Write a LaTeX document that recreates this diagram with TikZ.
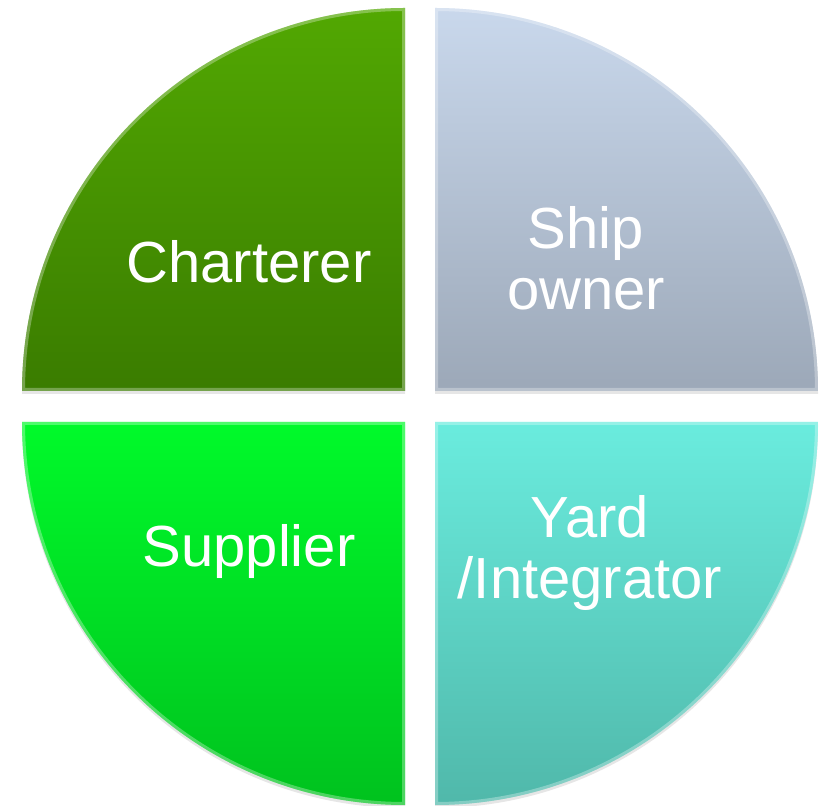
\documentclass[tikz,border=0pt]{standalone}
\usepackage{fontspec}
\setmainfont{Liberation Sans}
\usetikzlibrary{shadows}

\definecolor{charttop}{RGB}{82,168,2}
\definecolor{chartbot}{RGB}{58,124,0}
\definecolor{shiptop}{RGB}{201,216,236}
\definecolor{shipbot}{RGB}{156,168,184}
\definecolor{supptop}{RGB}{0,250,42}
\definecolor{suppbot}{RGB}{0,194,30}
\definecolor{yardtop}{RGB}{106,236,222}
\definecolor{yardbot}{RGB}{80,184,170}

\begin{document}
\begin{tikzpicture}[
    x=1pt,
    y=1pt,
    quarter/.style={
        draw=none,
        drop shadow={shadow xshift=0pt, shadow yshift=-3pt, opacity=.2}
    },
    rim/.style={
        white,
        opacity=.3,
        line width=6pt
    },
    quartertext/.style={
        text=white,
        font=\fontsize{58}{61}\selectfont,
        align=center,
        inner sep=0pt
    }
]
\useasboundingbox (0,0) rectangle (821,805);

% Quarto in alto a sinistra - Charterer
\shade[quarter, top color=charttop, bottom color=chartbot]
    (405,414) -- (22,414) arc[start angle=180, end angle=90, radius=383] -- cycle;
\begin{scope}
    \clip (405,414) -- (22,414) arc[start angle=180, end angle=90, radius=383] -- cycle;
    \draw[rim] (405,414) -- (22,414) arc[start angle=180, end angle=90, radius=383] -- cycle;
\end{scope}

% Quarto in alto a destra - Ship owner
\shade[quarter, top color=shiptop, bottom color=shipbot]
    (435,414) -- (435,797) arc[start angle=90, end angle=0, radius=383] -- cycle;
\begin{scope}
    \clip (435,414) -- (435,797) arc[start angle=90, end angle=0, radius=383] -- cycle;
    \draw[rim] (435,414) -- (435,797) arc[start angle=90, end angle=0, radius=383] -- cycle;
\end{scope}

% Quarto in basso a sinistra - Supplier
\shade[quarter, top color=supptop, bottom color=suppbot]
    (405,383) -- (405,0) arc[start angle=270, end angle=180, radius=383] -- cycle;
\begin{scope}
    \clip (405,383) -- (405,0) arc[start angle=270, end angle=180, radius=383] -- cycle;
    \draw[rim] (405,383) -- (405,0) arc[start angle=270, end angle=180, radius=383] -- cycle;
\end{scope}

% Quarto in basso a destra - Yard/Integrator
\shade[quarter, top color=yardtop, bottom color=yardbot]
    (435,383) -- (818,383) arc[start angle=0, end angle=-90, radius=383] -- cycle;
\begin{scope}
    \clip (435,383) -- (818,383) arc[start angle=0, end angle=-90, radius=383] -- cycle;
    \draw[rim] (435,383) -- (818,383) arc[start angle=0, end angle=-90, radius=383] -- cycle;
\end{scope}

% Etichette
\node[quartertext, anchor=base] (charterer) at (249,522) {Charterer};
\node[quartertext] (shipowner) at (586,547) {Ship\\owner};
\node[quartertext, anchor=base] (supplier) at (249,238) {Supplier};
\node[quartertext] (yard) at (590,252) {Yard\\/Integrator};

\end{tikzpicture}
\end{document}
